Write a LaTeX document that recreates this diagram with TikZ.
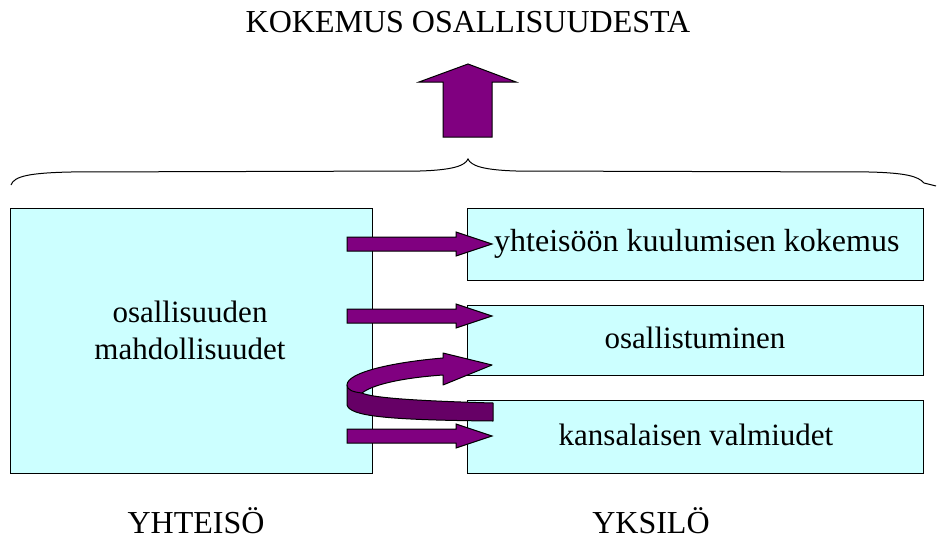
\documentclass[tikz,border=0pt]{standalone}
\usepackage{fontspec}
\setmainfont{Liberation Serif}
\definecolor{boxcyan}{HTML}{CCFFFF}
\definecolor{arrowpurple}{HTML}{800080}
\definecolor{arrowdark}{HTML}{660066}
\begin{document}
\begin{tikzpicture}[x=1pt,y=-1pt,
  panel/.style={draw=black, line width=1.2pt, fill=boxcyan, inner sep=0pt, anchor=north west},
  lbl/.style={font=\fontsize{31}{37}\selectfont, align=center, inner sep=0pt},
  biglbl/.style={font=\fontsize{32}{38}\selectfont, align=center, inner sep=0pt},
  fatarrow/.style={draw=black, line width=1pt, fill=arrowpurple, line join=miter},
  backband/.style={draw=black, line width=1pt, fill=arrowdark, line join=round}]
\useasboundingbox (0,0) rectangle (937,541);
\fill[white] (0,0) rectangle (937,541);

% boxes
\node[panel, minimum width=362pt, minimum height=265pt] (left) at (10,208) {};
\node[panel, minimum width=456pt, minimum height=72pt] (r1) at (467,208) {};
\node[panel, minimum width=456pt, minimum height=70pt] (r2) at (467,305) {};
\node[panel, minimum width=456pt, minimum height=73pt] (r3) at (467,400) {};

% box labels
\node[lbl] (lefttxt) at (190,330) {osallisuuden\\mahdollisuudet};
\node[biglbl, anchor=west] (r1txt) at (494,244) {yhteisöön kuulumisen kokemus};
\node[lbl] (r2txt) at (695,338) {osallistuminen};
\node[lbl] (r3txt) at (696,435) {kansalaisen valmiudet};

% titles
\node[biglbl, anchor=base] (title) at (468,32) {KOKEMUS OSALLISUUDESTA};
\node[biglbl, anchor=base] (yht) at (196,533) {YHTEISÖ};
\node[biglbl, anchor=base] (yks) at (651,533) {YKSILÖ};

% straight arrows
\newcommand\fatright[3]{%
  \draw[fatarrow] (#1,{#3-7}) -- ({#2-36},{#3-7}) -- ({#2-36},{#3-12}) -- (#2,#3)
    -- ({#2-36},{#3+12}) -- ({#2-36},{#3+7}) -- (#1,{#3+7}) -- cycle;}
\fatright{347}{492}{244}
\fatright{347}{492}{316}
\fatright{347}{492}{436}

% curved arrow: back band
\draw[backband] (347,385) -- (347,405) .. controls (350,416) and (385,420) .. (493,421)
  -- (493,403) .. controls (420,401) and (372,398) .. (362,393) -- cycle;
% curved arrow: front ribbon with head
\draw[fatarrow, line join=round] (347,385) .. controls (347,372) and (395,362) .. (443,358)
  -- (443,353) -- (492,365) -- (443,385) -- (443,375)
  .. controls (400,378) and (372,385) .. (362,393)
  .. controls (353,392) and (347,390) .. (347,385) -- cycle;

% up arrow
\draw[fatarrow] (443,137) -- (443,82) -- (419,82) -- (468,64) -- (516,82) -- (492,82) -- (492,137) -- cycle;

% brace
\draw[line width=1pt] (11,185) .. controls (14,176) and (30,173) .. (70,172) -- (420,171)
  .. controls (452,170) and (465,166) .. (468,159)
  .. controls (471,166) and (484,170) .. (516,171) -- (870,172)
  .. controls (905,173) and (918,176) .. (924,183) -- (936,186);
\end{tikzpicture}
\end{document}
